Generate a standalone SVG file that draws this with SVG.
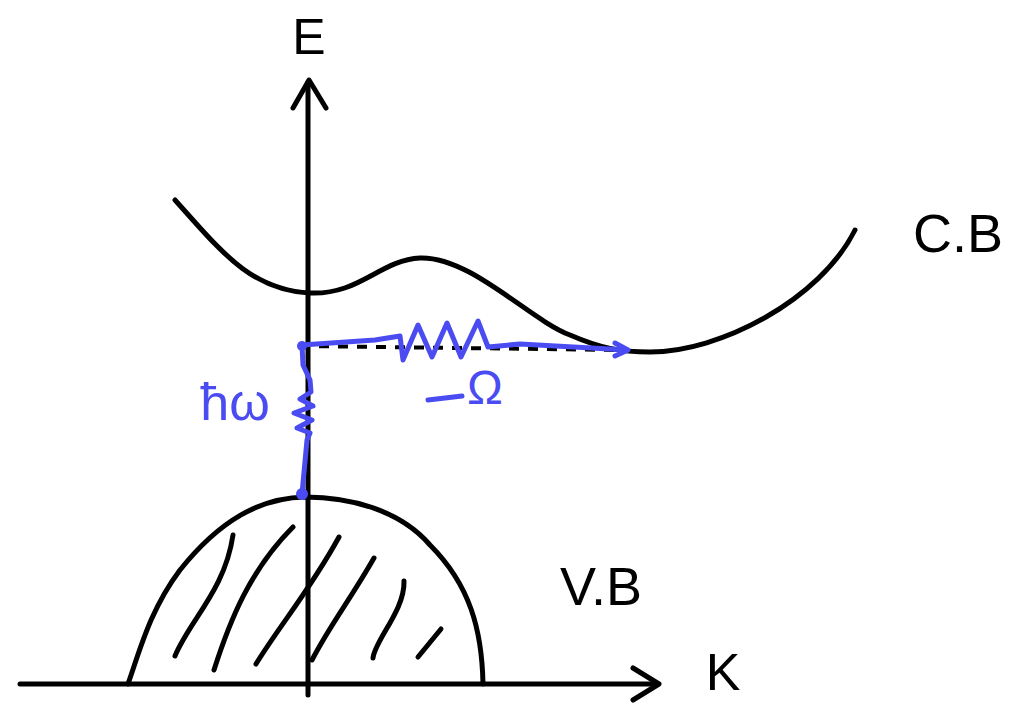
<svg xmlns="http://www.w3.org/2000/svg" width="1035" height="704" viewBox="0 0 1035 704">
<style>
.k{fill:none;stroke:#000;stroke-width:5;stroke-linecap:round;stroke-linejoin:round}
.b{fill:none;stroke:#4a4cf2;stroke-width:5;stroke-linecap:round;stroke-linejoin:round}
.t{font-family:"Liberation Sans",sans-serif;fill:#000}
.tb{font-family:"Liberation Sans",sans-serif;fill:#4a4cf2}
</style>
<rect width="1035" height="704" fill="#fff"/>
<g id="axes">
<path class="k" d="M308 695 L308 82"/>
<path class="k" d="M293 108 L309 80 L326 108"/>
<path class="k" d="M20 684 L658 684"/>
<path class="k" d="M633 668 L659 684 L633 700"/>
</g>
<g id="conduction-band">
<path class="k" d="M175 200 C220 250 250 290 310 293 C360 295 380 260 420 258 C470 256 530 320 570 335 C600 348 620 352 650 352 C720 352 820 300 855 230"/>
</g>
<g id="valence-band">
<path class="k" d="M128 684 C140 650 150 610 180 570 C220 520 260 498 305 497 C350 497 400 510 430 545 C470 585 482 630 483 684"/>
<path class="k" d="M233 535 C225 590 190 620 175 656"/>
<path class="k" d="M293 527 C250 570 230 620 214 670"/>
<path class="k" d="M339 537 C310 590 280 625 256 664"/>
<path class="k" d="M374 558 C350 600 330 625 312 660"/>
<path class="k" d="M404 581 C405 610 375 640 373 658"/>
<path class="k" d="M441 629 L418 657"/>
</g>
<g id="connectors">
<path d="M300 346 L620 350" fill="none" stroke="#000" stroke-width="4" stroke-dasharray="10 9"/>
<path class="b" d="M302 494 L307 440 L310 433 L297 428 L312 420 L294 413 L313 406 L300 399 L311 392 L310 380 L303 365 L302 345"/>
<path class="b" d="M302 345 L375 340 L400 336 L403 360 L418 325 L432 357 L447 323 L461 357 L478 321 L488 347 L520 344 L627 350"/>
<path class="b" d="M615 343 L628 350 L615 356"/>
<circle cx="302" cy="494" r="6" fill="#4a4cf2"/>
<circle cx="302" cy="346" r="5" fill="#4a4cf2"/>
</g>
<g id="labels">
<text class="t" x="309" y="54" font-size="50" text-anchor="middle">E</text>
<text class="t" x="958" y="252" font-size="54" text-anchor="middle">C.B</text>
<text class="t" x="601" y="605" font-size="54" text-anchor="middle">V.B</text>
<text class="t" x="723" y="690" font-size="52" text-anchor="middle">K</text>
<text class="tb" x="235" y="420" font-size="52" text-anchor="middle">ħω</text>
<text class="tb" x="485" y="404" font-size="48" text-anchor="middle">Ω</text>
<path class="b" d="M428 400 L462 396"/>
</g>
</svg>
